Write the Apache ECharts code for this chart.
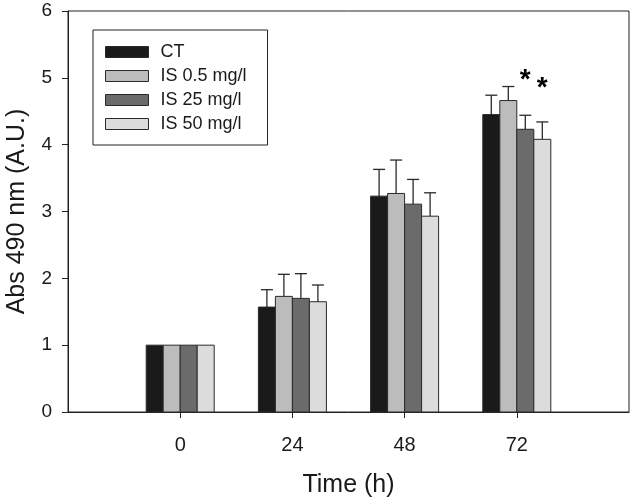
<!DOCTYPE html>
<html>
<head>
<meta charset="utf-8">
<script src="https://cdn.jsdelivr.net/npm/echarts@6/dist/echarts.min.js"></script>
<style>
  html, body { margin: 0; padding: 0; background: #fff; }
  #chart { width: 632px; height: 500px; }
</style>
</head>
<body>
<div id="chart"></div>
<script>
// time points (h)
var times = [0, 24, 48, 72];
var tickTimes = [0, 24, 48, 72];
var groupNames = ['CT', 'IS 0.5 mg/l', 'IS 25 mg/l', 'IS 50 mg/l'];
var groupColors = ['#1a1a1a', '#bcbcbc', '#6b6b6b', '#dcdcdc'];

// bar heights (Abs 490 nm)
var ctMean   = [1.00, 1.57, 3.23, 4.45];
var is05Mean = [1.00, 1.73, 3.27, 4.66];
var is25Mean = [1.00, 1.70, 3.11, 4.23];
var is50Mean = [1.00, 1.65, 2.93, 4.08];

// upper error (SD)
var ctErr   = [0, 0.26, 0.40, 0.29];
var is05Err = [0, 0.33, 0.50, 0.21];
var is25Err = [0, 0.37, 0.37, 0.21];
var is50Err = [0, 0.25, 0.35, 0.26];

// significance marks: time, group index, height
var starTime  = [72, 72];
var starGroup = [2, 3];
var starY     = [4.96, 4.84];

var means = [ctMean, is05Mean, is25Mean, is50Mean];
var errs = [ctErr, is05Err, is25Err, is50Err];

var BAR_W = 17;
var FONT = "'Liberation Sans', Arial, sans-serif";
var INK = '#1a1a1a';

function offsetOf(g){
    return (g - 1.5) * BAR_W;
}

var series = [];
// bars, drawn as custom rects so the value axis keeps its fixed range
for(var g=0; g<groupNames.length; g++){
    (function(gi){
        var d = [];
        for(var i=0;i<times.length;i++){
            d.push([times[i], means[gi][i]]);
        }
        series.push({
            name: groupNames[gi],
            type: 'custom',
            z: 2,
            itemStyle: { color: groupColors[gi], borderColor: '#2a2a2a', borderWidth: 1 },
            data: d,
            renderItem: function(params, api){
                var top = api.coord([api.value(0), api.value(1)]);
                var bot = api.coord([api.value(0), 0]);
                var x = top[0] + offsetOf(gi) - BAR_W / 2;
                return {
                    type: 'rect',
                    shape: { x: x, y: top[1], width: BAR_W, height: bot[1] - top[1] },
                    style: { fill: groupColors[gi], stroke: '#2a2a2a', lineWidth: 1 }
                };
            }
        });
    })(g);
}

// error bars
for(var g2=0; g2<groupNames.length; g2++){
    (function(gi){
        var d = [];
        for(var i=0;i<times.length;i++){
            d.push([times[i], means[gi][i], errs[gi][i]]);
        }
        series.push({
            type: 'custom',
            name: 'err' + gi,
            silent: true,
            z: 3,
            data: d,
            renderItem: function(params, api){
                var e = api.value(2);
                if(!e) return;
                var base = api.coord([api.value(0), api.value(1)]);
                var top = api.coord([api.value(0), api.value(1) + e]);
                var x = base[0] + offsetOf(gi);
                var lineStyle = { stroke: '#2a2a2a', lineWidth: 1.3 };
                return {
                    type: 'group',
                    children: [
                        { type: 'line', shape: { x1: x, y1: base[1], x2: x, y2: top[1] }, style: lineStyle },
                        { type: 'line', shape: { x1: x - 6, y1: top[1], x2: x + 6, y2: top[1] }, style: lineStyle }
                    ]
                };
            }
        });
    })(g2);
}

// asterisks
var starData = [];
for(var s=0;s<starTime.length;s++){
    starData.push([starTime[s], starY[s], starGroup[s]]);
}
series.push({
    type: 'custom',
    name: 'stars',
    silent: true,
    z: 4,
    data: starData,
    renderItem: function(params, api){
        var p = api.coord([api.value(0), api.value(1)]);
        return {
            type: 'text',
            style: {
                x: p[0] + offsetOf(api.value(2)),
                y: p[1],
                text: '*',
                font: 'bold 28px ' + FONT,
                fill: '#000',
                align: 'center',
                verticalAlign: 'middle'
            }
        };
    }
});

var myChart = echarts.init(document.getElementById('chart'), null, { renderer: 'canvas' });
var option = {
    animation: false,
    textStyle: { fontFamily: FONT },
    grid: {
        left: 68, right: 3, top: 11, bottom: 88,
        show: true,
        borderColor: '#222',
        borderWidth: 1,
        containLabel: false,
        outerBoundsMode: 'none'
    },
    legend: {
        data: groupNames,
        orient: 'vertical',
        left: 93,
        top: 30,
        padding: [12, 21, 11, 12],
        itemWidth: 43,
        itemHeight: 11,
        itemGap: 4,
        icon: 'rect',
        borderColor: '#222',
        borderWidth: 1,
        itemStyle: { borderColor: '#2a2a2a', borderWidth: 1 },
        textStyle: {
            fontSize: 18,
            lineHeight: 20,
            color: INK,
            fontFamily: FONT,
            padding: [0, 0, 0, 7]
        }
    },
    xAxis: {
        type: 'value',
        min: -24,
        max: 96,
        interval: 24,
        name: 'Time (h)',
        nameLocation: 'middle',
        nameGap: 61,
        nameTextStyle: { fontSize: 25, color: INK, fontFamily: FONT },
        axisLine: { onZero: false, lineStyle: { color: '#222', width: 1 } },
        axisTick: { show: true, length: 6, customValues: tickTimes, lineStyle: { color: '#222' } },
        axisLabel: { customValues: tickTimes, fontSize: 20, color: INK, margin: 23, fontFamily: FONT },
        splitLine: { show: false }
    },
    yAxis: {
        type: 'value',
        min: 0,
        max: 6,
        interval: 1,
        name: 'Abs 490 nm (A.U.)',
        nameLocation: 'middle',
        nameGap: 38,
        nameTextStyle: { fontSize: 25, color: INK, fontFamily: FONT },
        axisLine: { show: true, onZero: false, lineStyle: { color: '#222', width: 1 } },
        axisTick: { show: true, length: 6, lineStyle: { color: '#222' } },
        axisLabel: { fontSize: 19, color: INK, margin: 16, fontFamily: FONT },
        splitLine: { show: false }
    },
    series: series
};
myChart.setOption(option);
</script>
</body>
</html>
